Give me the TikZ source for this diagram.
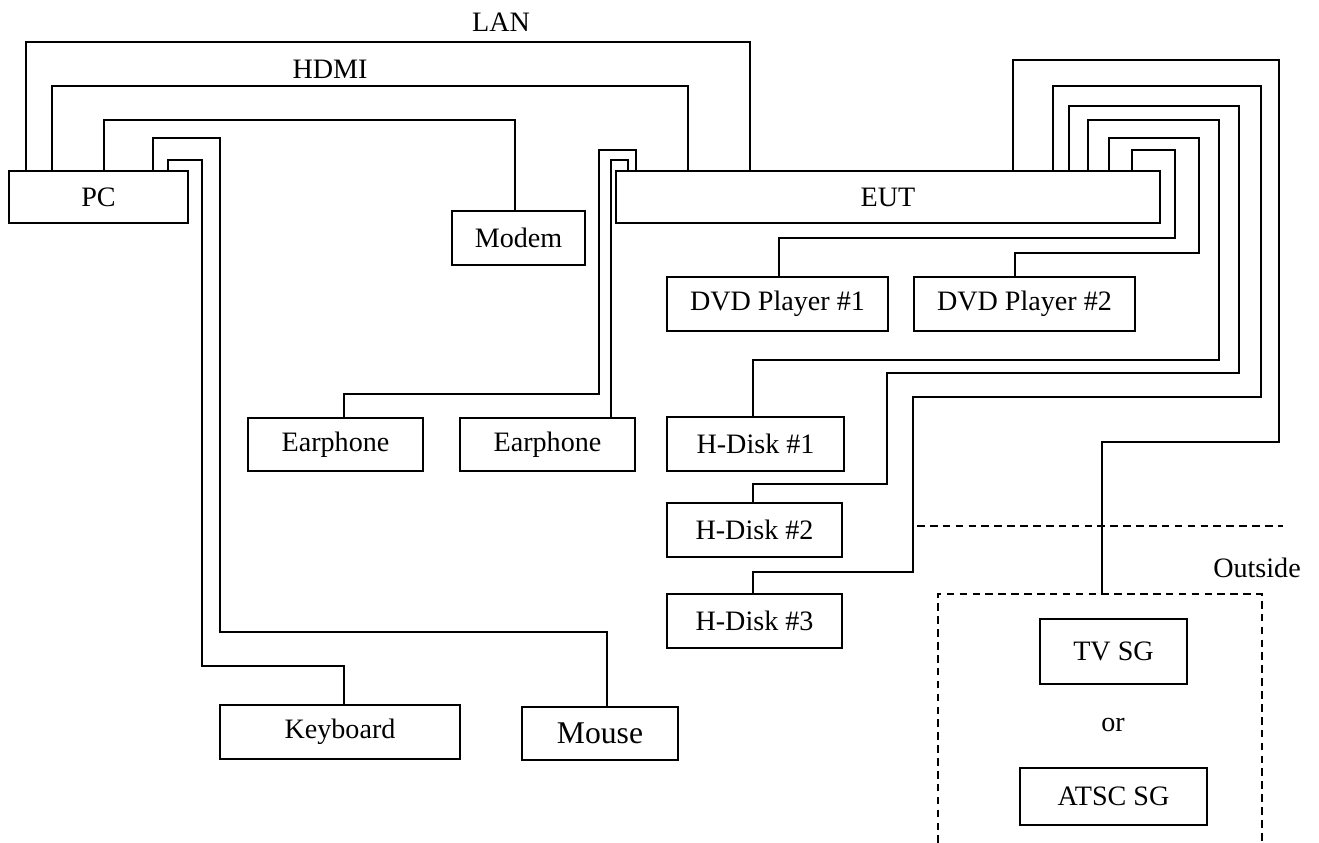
\documentclass[tikz,border=0pt]{standalone}
\usepackage{fontspec}
\setmainfont{Liberation Serif}
\usetikzlibrary{positioning}

\begin{document}
\begin{tikzpicture}[x=0.03cm, y=-0.03cm,
    box/.style={draw, line width=1.5pt, inner sep=0pt, font=\fontsize{24}{28}\selectfont},
    cable/.style={line width=1.3pt},
    border/.style={line width=1.2pt, dash pattern=on 6.5pt off 4.5pt},
    lbl/.style={font=\fontsize{24}{28}\selectfont}]
    \path[use as bounding box] (0, 0) rectangle (1319, 843);

    % devices
    \node[box, minimum width=179*0.03cm, minimum height=52*0.03cm] (pc)    at (98.5, 197)   {PC};
    \node[box, minimum width=133*0.03cm, minimum height=54*0.03cm] (modem) at (518.5, 238)  {Modem};
    \node[box, minimum width=544*0.03cm, minimum height=52*0.03cm] (eut)   at (888, 197)    {EUT};
    \node[box, minimum width=221*0.03cm, minimum height=54*0.03cm] (dvd1)  at (777.5, 304)  {DVD Player \#1};
    \node[box, minimum width=221*0.03cm, minimum height=54*0.03cm] (dvd2)  at (1024.5, 304) {DVD Player \#2};
    \node[box, minimum width=175*0.03cm, minimum height=53*0.03cm] (ear1)  at (335.5, 444.5) {Earphone};
    \node[box, minimum width=175*0.03cm, minimum height=53*0.03cm] (ear2)  at (547.5, 444.5) {Earphone};
    \node[box, minimum width=177*0.03cm, minimum height=54*0.03cm] (hd1)   at (755.5, 444)  {H-Disk \#1};
    \node[box, minimum width=175*0.03cm, minimum height=54*0.03cm] (hd2)   at (754.5, 530)  {H-Disk \#2};
    \node[box, minimum width=175*0.03cm, minimum height=54*0.03cm] (hd3)   at (754.5, 621)  {H-Disk \#3};
    \node[box, minimum width=240*0.03cm, minimum height=54*0.03cm] (kbd)   at (340, 732)    {Keyboard};
    \node[box, minimum width=156*0.03cm, minimum height=53*0.03cm,
          font=\fontsize{27}{31}\selectfont]                         (mouse) at (600, 733.5)  {Mouse};
    \node[box, minimum width=147*0.03cm, minimum height=65*0.03cm] (tvsg)  at (1113.5, 651.5) {TV SG};
    \node[box, minimum width=187*0.03cm, minimum height=57*0.03cm] (atsc)  at (1113.5, 796.5) {ATSC SG};

    % labels
    \node[lbl] (lan)     at (501, 22)   {LAN};
    \node[lbl] (hdmi)    at (330, 69)   {HDMI};
    \node[lbl] (outside) at (1257, 568) {Outside};
    \node[lbl] (or)      at (1113, 725) {or};

    % outside area
    \draw[border] (917, 526) -- (1283, 526);
    \draw[border] (938, 843) |- (1262, 594) -- (1262, 843);
    \coordinate (sgin) at (1102, 594);

    % PC cables
    \draw[cable] (pc.north -| 26,0)  |- (750, 42) -- (eut.north -| 750,0);
    \draw[cable] (pc.north -| 52,0)  |- (688, 86) -- (eut.north -| 688,0);
    \draw[cable] (pc.north -| 104,0) |- (515, 120) -- (modem.north -| 515,0);
    \draw[cable] (pc.north -| 153,0) |- (220, 138) |- (607, 632) -- (mouse.north -| 607,0);
    \draw[cable] (pc.north -| 168,0) |- (202, 160) |- (344, 666) -- (kbd.north -| 344,0);

    % earphones
    \draw[cable] (ear1.north -| 344,0) |- (599, 394) |- (636, 150) -- (eut.north -| 636,0);
    \draw[cable] (ear2.north -| 611,0) |- (628, 160) -- (eut.north -| 628,0);

    % EUT right side
    \draw[cable] (dvd1.north -| 779,0)  |- (1175, 238) |- (1132, 150) -- (eut.north -| 1132,0);
    \draw[cable] (dvd2.north -| 1015,0) |- (1199, 253) |- (1109, 138) -- (eut.north -| 1109,0);
    \draw[cable] (hd1.north -| 753,0) |- (1219, 360) |- (1088, 120) -- (eut.north -| 1088,0);
    \draw[cable] (hd2.north -| 753,0) |- (887, 484) |- (1239, 373) |- (1069, 106) -- (eut.north -| 1069,0);
    \draw[cable] (hd3.north -| 753,0) |- (913, 572) |- (1261, 397) |- (1053, 86) -- (eut.north -| 1053,0);
    \draw[cable] (sgin) |- (1279, 442) |- (1013, 60) -- (eut.north -| 1013,0);
\end{tikzpicture}
\end{document}
